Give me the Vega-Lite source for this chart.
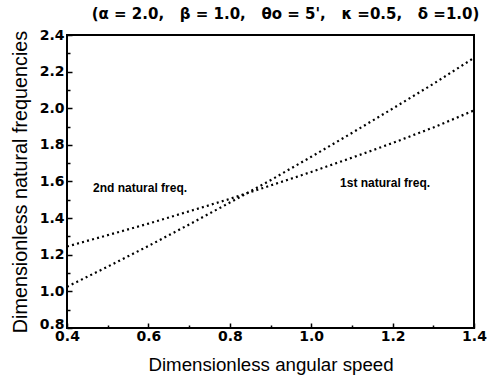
{
  "$schema": "https://vega.github.io/schema/vega-lite/v6.json",
  "width": 407,
  "height": 293,
  "autosize": "none",
  "padding": {"left": 67, "top": 35, "right": 23, "bottom": 51},
  "background": "white",
  "config": {
    "view": {"stroke": "black", "strokeWidth": 2},
    "font": "Liberation Sans"
  },
  "title": {
    "text": "(α = 2.0,\u00a0\u00a0\u00a0β = 1.0,\u00a0\u00a0\u00a0θo = 5',\u00a0\u00a0\u00a0κ =0.5,\u00a0\u00a0\u00a0δ =1.0)",
    "font": "DejaVu Sans",
    "fontSize": 15,
    "fontWeight": "bold",
    "color": "black",
    "anchor": "middle",
    "frame": "group",
    "dx": 15,
    "offset": 6
  },
  "resolve": {"axis": {"x": "independent", "y": "independent"}},
  "layer": [
    {
      "data": {
        "values": [
          {"speed": 0.4, "freq": 1.025, "mode": "steep"},
          {"speed": 0.5, "freq": 1.135, "mode": "steep"},
          {"speed": 0.6, "freq": 1.248, "mode": "steep"},
          {"speed": 0.7, "freq": 1.365, "mode": "steep"},
          {"speed": 0.8, "freq": 1.485, "mode": "steep"},
          {"speed": 0.9, "freq": 1.607, "mode": "steep"},
          {"speed": 1.0, "freq": 1.735, "mode": "steep"},
          {"speed": 1.1, "freq": 1.865, "mode": "steep"},
          {"speed": 1.2, "freq": 1.998, "mode": "steep"},
          {"speed": 1.3, "freq": 2.133, "mode": "steep"},
          {"speed": 1.4, "freq": 2.275, "mode": "steep"},
          {"speed": 0.4, "freq": 1.245, "mode": "flat"},
          {"speed": 0.5, "freq": 1.307, "mode": "flat"},
          {"speed": 0.6, "freq": 1.370, "mode": "flat"},
          {"speed": 0.7, "freq": 1.437, "mode": "flat"},
          {"speed": 0.8, "freq": 1.505, "mode": "flat"},
          {"speed": 0.9, "freq": 1.578, "mode": "flat"},
          {"speed": 1.0, "freq": 1.652, "mode": "flat"},
          {"speed": 1.1, "freq": 1.730, "mode": "flat"},
          {"speed": 1.2, "freq": 1.810, "mode": "flat"},
          {"speed": 1.3, "freq": 1.895, "mode": "flat"},
          {"speed": 1.4, "freq": 1.988, "mode": "flat"}
        ]
      },
      "mark": {"type": "line", "color": "black", "strokeWidth": 2.2, "strokeDash": [2, 3.2], "strokeCap": "butt"},
      "encoding": {
        "x": {
          "field": "speed", "type": "quantitative",
          "scale": {"domain": [0.4, 1.4], "nice": false, "zero": false},
          "axis": {
            "orient": "bottom",
            "title": "Dimensionless angular speed",
            "titleFont": "Liberation Sans", "titleFontSize": 18.7, "titleFontWeight": "normal", "titleColor": "black",
            "titlePadding": 12,
            "values": [0.4, 0.6, 0.8, 1.0, 1.2, 1.4],
            "format": ".1f",
            "labelFont": "DejaVu Sans", "labelFontSize": 14, "labelFontWeight": "bold", "labelColor": "black",
            "labelPadding": 6, "labelFlush": false, "labelOverlap": false,
            "domain": false, "grid": false,
            "tickColor": "black", "tickWidth": 1.5, "tickSize": -5
          }
        },
        "y": {
          "field": "freq", "type": "quantitative",
          "scale": {"domain": [0.8, 2.4], "nice": false, "zero": false},
          "axis": {
            "orient": "left",
            "title": "Dimensionless natural frequencies",
            "titleFont": "Liberation Sans", "titleFontSize": 19.8, "titleFontWeight": "normal", "titleColor": "black",
            "titlePadding": 9,
            "values": [0.8, 1.0, 1.2, 1.4, 1.6, 1.8, 2.0, 2.2, 2.4],
            "format": ".1f",
            "labelFont": "DejaVu Sans", "labelFontSize": 14, "labelFontWeight": "bold", "labelColor": "black",
            "labelPadding": 8, "labelFlush": false, "labelOverlap": false,
            "labelOffset": {"condition": {"test": "datum.value < 0.85", "value": -4}, "value": 0},
            "domain": false, "grid": false,
            "tickColor": "black", "tickWidth": 1.5, "tickSize": -5
          }
        },
        "detail": {"field": "mode", "type": "nominal"}
      }
    },
    {
      "data": {
        "values": [
          {"speed": 0.464, "freq": 1.564, "label": "2nd natural freq."},
          {"speed": 1.071, "freq": 1.59, "label": "1st natural freq."}
        ]
      },
      "mark": {"type": "text", "align": "left", "baseline": "middle", "font": "Liberation Sans", "fontSize": 12, "fontWeight": "bold", "color": "black"},
      "encoding": {
        "x": {
          "field": "speed", "type": "quantitative",
          "axis": {
            "orient": "bottom", "title": null, "labels": false, "domain": false, "grid": false,
            "values": [0.5, 0.7, 0.9, 1.1, 1.3],
            "tickColor": "black", "tickWidth": 1.5, "tickSize": -3
          }
        },
        "y": {
          "field": "freq", "type": "quantitative",
          "axis": {
            "orient": "left", "title": null, "labels": false, "domain": false, "grid": false,
            "values": [0.9, 1.1, 1.3, 1.5, 1.7, 1.9, 2.1, 2.3],
            "tickColor": "black", "tickWidth": 1.5, "tickSize": -3
          }
        },
        "text": {"field": "label"}
      }
    }
  ]
}
